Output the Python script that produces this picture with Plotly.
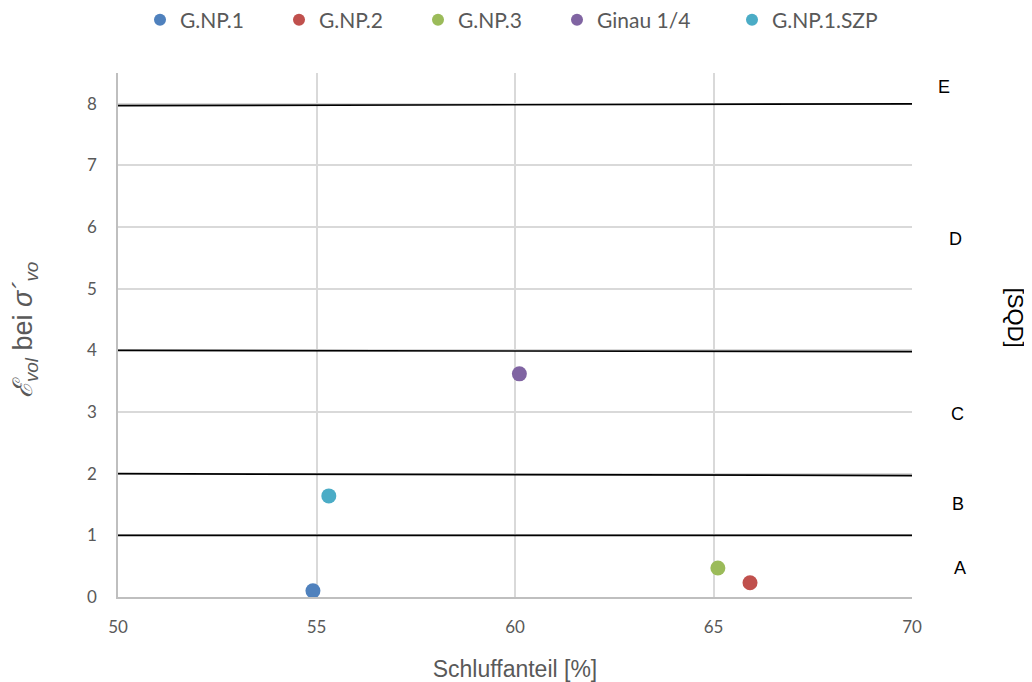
import plotly.graph_objects as go

series_names = ["G.NP.1", "G.NP.2", "G.NP.3", "Ginau 1/4", "G.NP.1.SZP"]
series_x = [54.91, 65.92, 65.11, 60.11, 55.31]
series_y = [0.10, 0.23, 0.47, 3.62, 1.64]
series_colors = ["#4F81BD", "#C0504D", "#9BBB59", "#8064A2", "#4BACC6"]
series_legend = ["legend", "legend", "legend", "legend", "legend2"]

# class boundary lines (start value at x=50, end value at x=70)
boundary_x = [50, 70]
boundary_y = [[7.97, 8.0], [4.0, 3.98], [2.0, 1.97], [1.0, 1.0]]

class_labels = ["A", "B", "C", "D", "E"]
class_label_y = [0.47, 1.51, 2.97, 5.81, 8.28]
class_label_x = [1.0605, 1.0579, 1.0567, 1.0542, 1.0403]

W, H = 1024, 674
ML, MR, MT, MB = 110, 120, 65, 85

fig = go.Figure()

for by in boundary_y:
    fig.add_trace(go.Scatter(x=boundary_x, y=by, mode="lines",
                             line=dict(color="black", width=1.7),
                             showlegend=False, hoverinfo="skip"))

for n, x, y, c, lg in zip(series_names, series_x, series_y, series_colors, series_legend):
    fig.add_trace(go.Scatter(x=[x], y=[y], mode="markers", name=n, legend=lg,
                             marker=dict(color=c, size=15)))

for lab, lx, ly in zip(class_labels, class_label_x, class_label_y):
    fig.add_annotation(x=lx, xref="paper", y=ly, yref="y", text=lab,
                       showarrow=False, xanchor="center", yanchor="middle",
                       font=dict(family="Liberation Sans", size=18, color="black"))

fig.add_annotation(x=1.1297, xref="paper", y=4.53, yref="y", text="[SQD]",
                   showarrow=False, textangle=90, xanchor="center", yanchor="middle",
                   font=dict(family="Liberation Sans", size=22, color="black"))

fig.add_annotation(x=-0.1171, xref="paper", y=4.33, yref="y",
                   text="<i>ℰ</i><sub><i>vol</i></sub> bei <i>σ´</i><sub><i>vo</i></sub>",
                   showarrow=False, textangle=-90, xanchor="center", yanchor="middle",
                   font=dict(family="Liberation Sans", size=27, color="#595959"))

tick_font = dict(family="Lato", size=17, color="#595959")
legend_common = dict(orientation="h", xanchor="left", xref="container",
                     y=1 - 12 / H, yanchor="middle", yref="container",
                     font=dict(family="Lato", size=21, color="#595959"),
                     itemsizing="constant", itemwidth=30, tracegroupgap=0,
                     bgcolor="rgba(0,0,0,0)")

fig.update_layout(
    width=W, height=H,
    margin=dict(l=ML, r=MR, t=MT, b=MB),
    plot_bgcolor="white", paper_bgcolor="white",
    legend=dict(x=132 / W, entrywidth=94, entrywidthmode="pixels", **legend_common),
    legend2=dict(x=724 / W, **legend_common),
    xaxis=dict(range=[50, 70], dtick=5, tick0=50, showgrid=True, gridcolor="#D9D9D9",
               gridwidth=1.5, showline=True, linecolor="#BFBFBF", linewidth=1.5,
               zeroline=False, ticks="", tickfont=tick_font, ticklabelstandoff=14,
               automargin=False,
               title=dict(text="Schluffanteil [%]",
                          font=dict(family="Liberation Sans", size=23, color="#595959"),
                          standoff=27)),
    yaxis=dict(range=[0, 8.5], dtick=1, tick0=0, showgrid=True, gridcolor="#D9D9D9",
               gridwidth=1.5, showline=True, linecolor="#BFBFBF", linewidth=1.5,
               zeroline=False, ticks="", tickfont=tick_font, ticklabelstandoff=16,
               automargin=False),
)

fig.write_html("out.html")
